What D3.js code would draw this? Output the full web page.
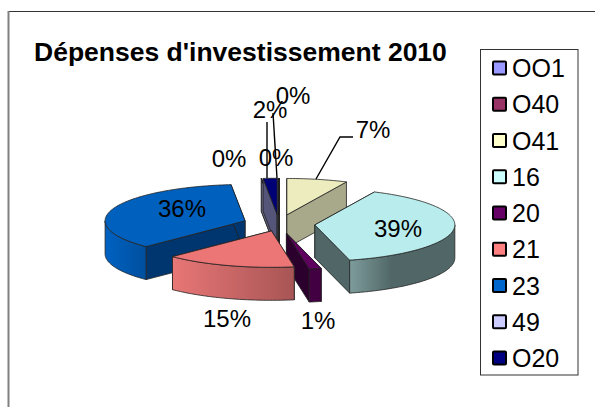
<!DOCTYPE html>
<html>
<head>
<meta charset="utf-8">
<script src="https://cdn.jsdelivr.net/npm/d3@7"></script>
<style>
    html, body {margin: 0; padding: 0; background: #fff;}
    svg {display: block;}
    text {font-family: "Liberation Sans", Arial, sans-serif; fill: #000;}
</style>
</head>
<body>
<div id="chart"></div>
<script>
const title = "Dépenses d'investissement 2010";
const categories = ["OO1", "O40", "O41", "16", "20", "21", "23", "49", "O20"];
const values = [0, 0, 7, 39, 1.4, 15.1, 35.9, 0, 1.6];

//colours per category
const legendColors = ["#9999ff", "#993366", "#ffffcc", "#ccffff", "#660066", "#ff8080", "#0066cc", "#ccccff", "#000080"];
const topColors = ["#8d8dec", "#8d2f5e", "#ececbe", "#b9eded", "#5e005e", "#ec7676", "#0060bd", "#bcbcec", "#000076"];
const cutColors = ["#55557a", "#55203a", "#a8a88a", "#516767", "#2c002c", "#a85555", "#00366f", "#6a6a8a", "#55557a"];
const wallStart = ["#55557a", "#55203a", "#a8a88a", "#7e9c9c", "#420042", "#e87676", "#0062c2", "#6a6a8a", "#55557a"];
const wallEnd = ["#55557a", "#55203a", "#a8a88a", "#516767", "#420042", "#a85555", "#004f9e", "#6a6a8a", "#55557a"];

//back to front
const drawOrder = ["OO1", "O40", "49", "O20", "O41", "23", "16", "20", "21"];

const width = 595, height = 407;
const cx = 279, cy = 224;      //centre of the pie before explosion
const radius = 140;
const tilt = 0.26;             //vertical squash of the circle
const depth = 33;
const explode = 36;

const svg = d3.select("#chart").append("svg")
    .attr("width", width)
    .attr("height", height);
const defs = svg.append("defs");

//chart frame, open on the right and bottom
svg.append("line").attr("x1", 8).attr("y1", 11.5).attr("x2", width).attr("y2", 11.5)
    .attr("stroke", "#333").attr("stroke-width", 1);
svg.append("line").attr("x1", 8.5).attr("y1", 11).attr("x2", 8.5).attr("y2", height)
    .attr("stroke", "#808080").attr("stroke-width", 2);

svg.append("text")
    .attr("x", 34).attr("y", 61)
    .attr("font-size", 26.5).attr("font-weight", "bold")
    .text(title);

//the red slice sits a little closer in than the others
const nudge = {"21": [3.5, -2]};

const slices = d3.pie().sort(null)(values).map((d, i) => {
    const mid = (d.startAngle + d.endAngle) / 2;
    const n = nudge[categories[i]] || [0, 0];
    return {
        name: categories[i],
        index: i,
        value: values[i],
        start: d.startAngle,
        end: d.endAngle,
        ax: cx + explode * Math.sin(mid) + n[0],
        ay: cy - explode * tilt * Math.cos(mid) + n[1]
    };
});

function rim(s, a, drop) {
    return [s.ax + radius * Math.sin(a), s.ay - radius * tilt * Math.cos(a) + drop];
}

function arcPoints(s, a0, a1, drop) {
    const n = Math.max(2, Math.ceil((a1 - a0) / 0.02));
    return d3.range(n + 1).map(k => rim(s, a0 + (a1 - a0) * k / n, drop));
}

const line = d3.line();
const pieG = svg.append("g")
    .attr("stroke", "#222")
    .attr("stroke-width", 0.8)
    .attr("stroke-linejoin", "round");

drawOrder.forEach(name => {
    const s = slices.find(d => d.name === name);
    const g = pieG.append("g").attr("class", "slice");

    //cut faces
    [s.start, s.end].forEach(a => {
        g.append("path")
            .attr("fill", cutColors[s.index])
            .attr("d", line([[s.ax, s.ay], rim(s, a, 0), rim(s, a, depth), [s.ax, s.ay + depth]]) + "Z");
    });

    //outer wall, only the front half of the circle is visible
    const w0 = Math.max(s.start, Math.PI / 2);
    const w1 = Math.min(s.end, 3 * Math.PI / 2);
    if (w1 > w0) {
        const x0 = rim(s, w0, 0)[0], x1 = rim(s, w1, 0)[0];
        const id = "wall" + s.index;
        const grad = defs.append("linearGradient").attr("id", id)
            .attr("gradientUnits", "userSpaceOnUse")
            .attr("x1", Math.min(x0, x1)).attr("y1", 0)
            .attr("x2", Math.max(x0, x1)).attr("y2", 0);
        grad.append("stop").attr("offset", "0%").attr("stop-color", wallStart[s.index]);
        grad.append("stop").attr("offset", s.name === "16" ? "40%" : "100%").attr("stop-color", wallEnd[s.index]);
        grad.append("stop").attr("offset", "100%").attr("stop-color", wallEnd[s.index]);
        const front = arcPoints(s, w0, w1, 0);
        const back = arcPoints(s, w0, w1, depth).reverse();
        g.append("path")
            .attr("fill", `url(#${id})`)
            .attr("d", line(front.concat(back)) + "Z");
    }

    //top surface
    g.append("path")
        .attr("fill", topColors[s.index])
        .attr("d", line([[s.ax, s.ay]].concat(arcPoints(s, s.start, s.end, 0))) + "Z");
});

//value labels, placed by hand like in the original
const labelPositions = {
    "OO1": [293, 104], "O40": [276, 166], "O41": [373, 138], "16": [398, 237], "20": [318, 329],
    "21": [227, 327], "23": [182, 217], "49": [229, 167], "O20": [270, 118]
};
const leaders = [
    [[316, 179], [340, 137], [353, 137]],
    [[267, 122], [267, 178]],
    [[273, 113], [277, 178]]
];

svg.append("g").selectAll("path")
    .data(leaders)
    .join("path")
    .attr("d", d => line(d))
    .attr("fill", "none")
    .attr("stroke", "#000")
    .attr("stroke-width", 1.4);

svg.append("g").selectAll("text")
    .data(slices)
    .join("text")
    .attr("x", d => labelPositions[d.name][0])
    .attr("y", d => labelPositions[d.name][1])
    .attr("text-anchor", "middle")
    .attr("font-size", 24)
    .text(d => Math.round(d.value) + "%");

//legend
const legendY = d3.scalePoint().domain(categories).range([68, 358]);
svg.append("rect")
    .attr("x", 480.5).attr("y", 49.5)
    .attr("width", 97.5).attr("height", 325.5)
    .attr("fill", "#fff").attr("stroke", "#333").attr("stroke-width", 1);

const legend = svg.append("g").selectAll("g")
    .data(categories)
    .join("g")
    .attr("transform", d => `translate(0,${legendY(d)})`);
legend.append("rect")
    .attr("x", 493).attr("y", -6.5)
    .attr("width", 13).attr("height", 13)
    .attr("rx", 1)
    .attr("fill", (d, i) => legendColors[i])
    .attr("stroke", "#000").attr("stroke-width", 2);
legend.append("text")
    .attr("x", 512).attr("y", 9)
    .attr("font-size", 25)
    .text(d => d);
</script>
</body>
</html>
